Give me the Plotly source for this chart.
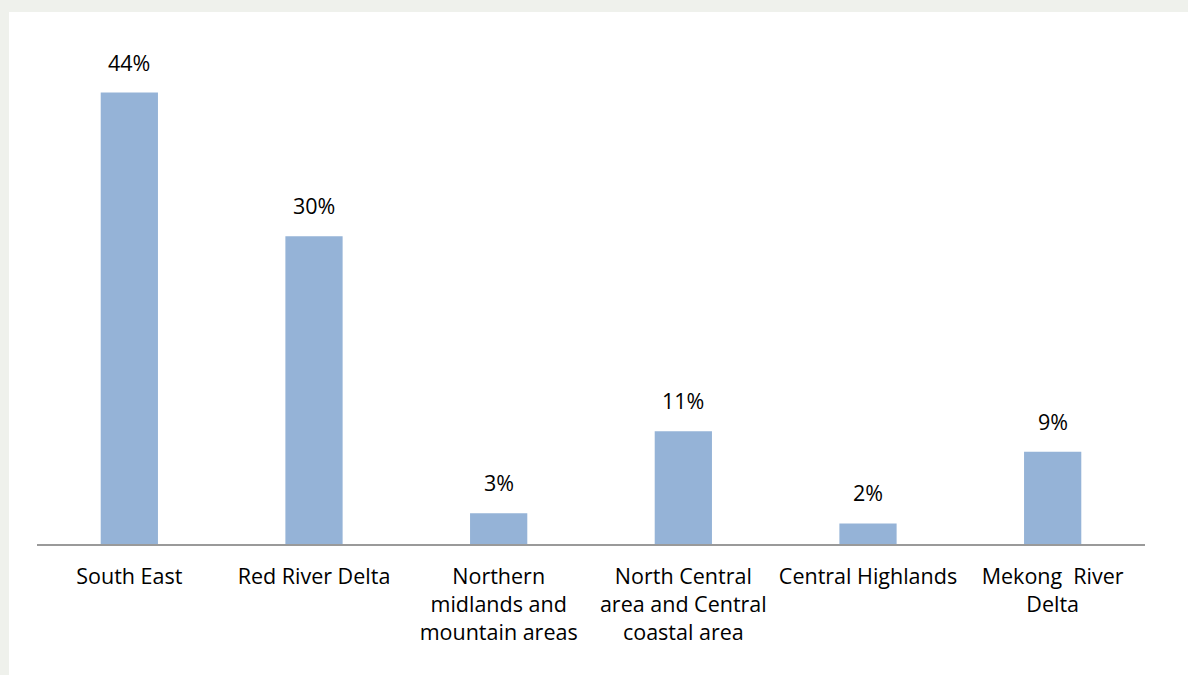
import plotly.graph_objects as go

# regions and their share (%)
regions = [
    "South East",
    "Red River Delta",
    "Northern<br>midlands and<br>mountain areas",
    "North Central<br>area and Central<br>coastal area",
    "Central Highlands",
    "Mekong  River<br>Delta",
]
shares = [44, 30, 3, 11, 2, 9]
share_labels = ["44%", "30%", "3%", "11%", "2%", "9%"]

BAR_COLOR = "#95b3d7"
PAGE_GREY = "#eff1ec"
FONT = "'Open Sans', sans-serif"

fig = go.Figure()
fig.add_trace(
    go.Bar(
        x=regions,
        y=shares,
        marker_color=BAR_COLOR,
        marker_line_width=0,
        hoverinfo="skip",
    )
)

for region, value, label in zip(regions, shares, share_labels):
    fig.add_annotation(
        x=region,
        y=value,
        text=label,
        showarrow=False,
        yanchor="bottom",
        yshift=14,
        font=dict(size=21.5, color="#000000", family=FONT),
    )

# white panel on the grey page
fig.add_shape(
    type="rect",
    xref="paper",
    yref="paper",
    x0=-0.0253,
    x1=1.06,
    y0=-0.3,
    y1=1.037,
    fillcolor="white",
    line_width=0,
    layer="below",
)

fig.update_layout(
    width=1188,
    height=675,
    paper_bgcolor=PAGE_GREY,
    plot_bgcolor="rgba(0,0,0,0)",
    margin=dict(l=37, r=43, t=31, b=131),
    bargap=0.69,
    showlegend=False,
    font=dict(family=FONT, size=21.5, color="#000000"),
)
fig.update_xaxes(
    range=[-0.5, 5.5],
    showline=True,
    linecolor="#9a9a9a",
    linewidth=2,
    showgrid=False,
    ticks="",
    ticklabelstandoff=12,
    tickfont=dict(size=21.5),
)
fig.update_yaxes(
    range=[0, 50],
    visible=False,
    showgrid=False,
    zeroline=False,
)

# drop the default page margin so the figure fills the window
fig.write_html(
    "out.html",
    config={"displayModeBar": False},
    post_script="document.body.style.margin='0';document.body.style.overflow='hidden';",
)
